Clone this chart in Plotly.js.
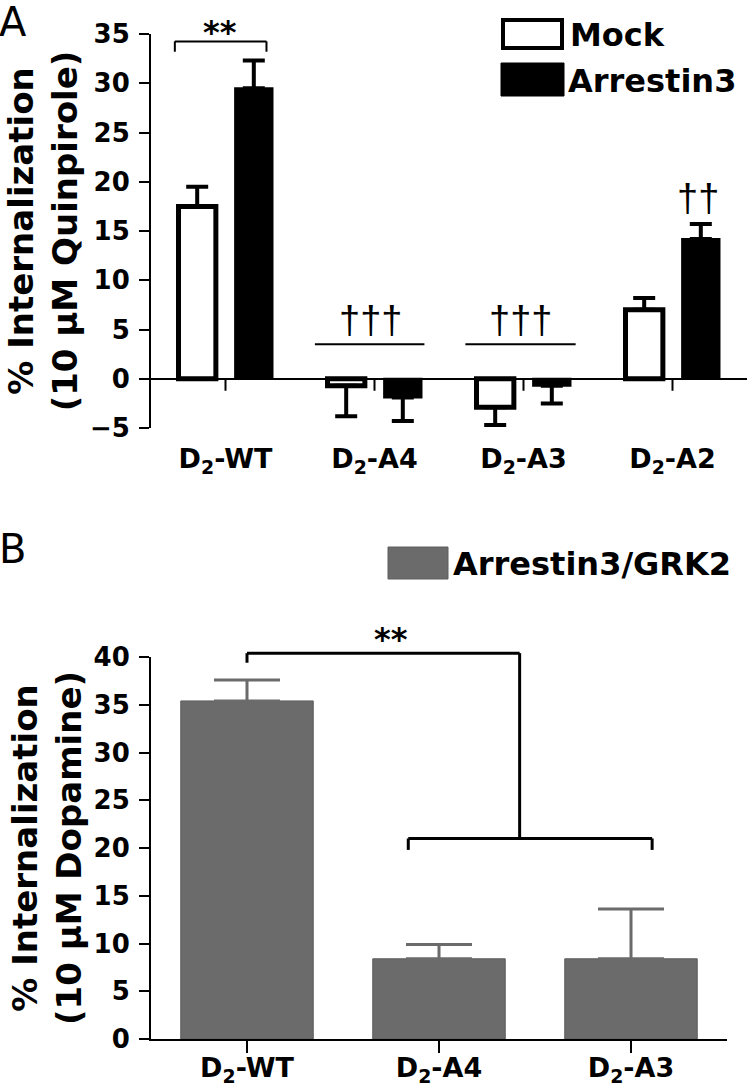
<!DOCTYPE html>
<html>
<head>
<meta charset="utf-8">
<script src="https://cdn.plot.ly/plotly-3.0.1.min.js"></script>
<style>html,body{margin:0;padding:0;background:#fff}#chart{width:750px;height:1091px}</style>
</head>
<body>
<div id="chart"></div>
<script>
// ---------- Panel A data ----------
const categoriesA = ['D2-WT', 'D2-A4', 'D2-A3', 'D2-A2'];
const tickLabelsA = ['D<sub>2</sub>-WT', 'D<sub>2</sub>-A4', 'D<sub>2</sub>-A3', 'D<sub>2</sub>-A2'];
const mockValues = [17.5, -0.7, -2.9, 7.0];
const mockErrors = [2.0, 3.1, 1.8, 1.2];
const arrestinValues = [29.5, -1.9, -0.7, 14.2];
const arrestinErrors = [2.8, 2.4, 1.8, 1.5];
const yTicksA = [-5, 0, 5, 10, 15, 20, 25, 30, 35];
const rangeA = [-5, 35];

// ---------- Panel B data ----------
const categoriesB = ['D2-WT', 'D2-A4', 'D2-A3'];
const tickLabelsB = ['D<sub>2</sub>-WT', 'D<sub>2</sub>-A4', 'D<sub>2</sub>-A3'];
const grkValues = [35.4, 8.4, 8.4];
const grkErrors = [2.2, 1.5, 5.2];
const yTicksB = [0, 5, 10, 15, 20, 25, 30, 35, 40];
const rangeB = [0, 40];

// error bars only drawn away from zero
function errUp(v, e) { return v.map((x, i) => x >= 0 ? e[i] : 0); }
function errDown(v, e) { return v.map((x, i) => x < 0 ? e[i] : 0); }
// value -> fraction of the axis domain (for marks placed beyond the axis range)
function dom(v, r) { return (v - r[0]) / (r[1] - r[0]); }

const FONT = 'DejaVu Sans, Verdana, sans-serif';
const SANS2 = 'Liberation Sans, Arial, sans-serif';
const GREY = '#6b6b6b';

const traces = [
  {
    type: 'bar', name: 'Mock', x: categoriesA, y: mockValues,
    xaxis: 'x', yaxis: 'y',
    marker: {color: '#ffffff', line: {color: '#000000', width: 5}},
    error_y: {type: 'data', symmetric: false, array: errUp(mockValues, mockErrors),
              arrayminus: errDown(mockValues, mockErrors), color: '#000000', thickness: 4, width: 11},
    hoverinfo: 'skip'
  },
  {
    type: 'bar', name: 'Arrestin3', x: categoriesA, y: arrestinValues,
    xaxis: 'x', yaxis: 'y',
    marker: {color: '#000000', line: {color: '#000000', width: 2}},
    error_y: {type: 'data', symmetric: false, array: errUp(arrestinValues, arrestinErrors),
              arrayminus: errDown(arrestinValues, arrestinErrors), color: '#000000', thickness: 4, width: 11},
    hoverinfo: 'skip'
  },
  {
    type: 'bar', name: 'Arrestin3/GRK2', x: categoriesB, y: grkValues,
    xaxis: 'x2', yaxis: 'y2', width: 0.69,
    marker: {color: GREY, line: {color: '#5e5e5e', width: 1}},
    error_y: {type: 'data', symmetric: false, array: errUp(grkValues, grkErrors),
              arrayminus: errDown(grkValues, grkErrors), color: GREY, thickness: 3, width: 33},
    hoverinfo: 'skip'
  }
];

const W = 750, H = 1091;
const px = x => x / W;
const py = y => 1 - y / H;

const tickFont = {family: FONT, size: 26, color: '#000', weight: 'bold'};
const xTickFont = {family: FONT, size: 27, color: '#000', weight: 'bold'};
const titleFont = {family: FONT, size: 34, color: '#000', weight: 'bold'};
const legendFont = {family: FONT, size: 32, color: '#000', weight: 'bold'};
const starFont = {family: FONT, size: 32, color: '#000', weight: 'bold'};
const daggerFont = {family: SANS2, size: 38, color: '#000'};

const shapes = [];
const annotations = [];

// category ticks at y = 0 in panel A
categoriesA.forEach((c, i) => {
  shapes.push({type: 'line', xref: 'x', yref: 'y', x0: i, x1: i, ysizemode: 'pixel', yanchor: 0, y0: 0, y1: -12,
               line: {color: '#000', width: 2}});
});

// Panel A significance marks
const lineA = {color: '#000', width: 2};
shapes.push({type: 'line', xref: 'x', yref: 'y', x0: -0.34, x1: 0.275, y0: 34.25, y1: 34.25, line: lineA});
shapes.push({type: 'line', xref: 'x', yref: 'y', x0: -0.34, x1: -0.34, y0: 33.2, y1: 34.25, line: lineA});
shapes.push({type: 'line', xref: 'x', yref: 'y', x0: 0.275, x1: 0.275, y0: 33.2, y1: 34.25, line: lineA});
shapes.push({type: 'line', xref: 'x', yref: 'y', x0: 0.6, x1: 1.335, y0: 3.5, y1: 3.5, line: lineA});
shapes.push({type: 'line', xref: 'x', yref: 'y', x0: 1.61, x1: 2.35, y0: 3.5, y1: 3.5, line: lineA});
annotations.push({xref: 'x', yref: 'y domain', x: -0.04, y: dom(35.2, rangeA), yanchor: 'middle', text: '**',
                  showarrow: false, font: starFont});
annotations.push({xref: 'x', yref: 'y', x: 0.97, y: 6.0, text: '†††', showarrow: false, font: daggerFont});
annotations.push({xref: 'x', yref: 'y', x: 1.98, y: 6.0, text: '†††', showarrow: false, font: daggerFont});
annotations.push({xref: 'x', yref: 'y', x: 3.17, y: 18.4, text: '††', showarrow: false, font: daggerFont});

// Panel B significance bracket
const lineB = {color: '#000', width: 3};
const bTop = dom(40.4, rangeB), bTopTick = dom(39.4, rangeB);
const bLow = dom(21.0, rangeB), bLowTick = dom(19.8, rangeB);
shapes.push({type: 'line', xref: 'x2', yref: 'y2 domain', x0: 0, x1: 1.42, y0: bTop, y1: bTop, line: lineB});
shapes.push({type: 'line', xref: 'x2', yref: 'y2 domain', x0: 0, x1: 0, y0: bTopTick, y1: bTop, line: lineB});
shapes.push({type: 'line', xref: 'x2', yref: 'y2 domain', x0: 1.42, x1: 1.42, y0: bLow, y1: bTop, line: lineB});
shapes.push({type: 'line', xref: 'x2', yref: 'y2 domain', x0: 0.84, x1: 2.11, y0: bLow, y1: bLow, line: lineB});
shapes.push({type: 'line', xref: 'x2', yref: 'y2 domain', x0: 0.84, x1: 0.84, y0: bLowTick, y1: bLow, line: lineB});
shapes.push({type: 'line', xref: 'x2', yref: 'y2 domain', x0: 2.11, x1: 2.11, y0: bLowTick, y1: bLow, line: lineB});
annotations.push({xref: 'x2', yref: 'y2 domain', x: 0.75, y: dom(41.9, rangeB), yanchor: 'middle', text: '**',
                  showarrow: false, font: starFont});

// Legends (drawn as swatches + text)
shapes.push({type: 'rect', xref: 'paper', yref: 'paper', x0: px(503), x1: px(562), y0: py(48), y1: py(20),
             line: {color: '#000', width: 4}, fillcolor: '#fff'});
shapes.push({type: 'rect', xref: 'paper', yref: 'paper', x0: px(501), x1: px(564), y0: py(96), y1: py(63),
             line: {color: '#000', width: 1}, fillcolor: '#000'});
annotations.push({xref: 'paper', yref: 'paper', x: px(568), y: py(35), xanchor: 'left', yanchor: 'middle',
                  text: 'Mock', showarrow: false, font: legendFont});
annotations.push({xref: 'paper', yref: 'paper', x: px(566), y: py(81), xanchor: 'left', yanchor: 'middle',
                  text: 'Arrestin3', showarrow: false, font: legendFont});
shapes.push({type: 'rect', xref: 'paper', yref: 'paper', x0: px(388), x1: px(448), y0: py(579), y1: py(547),
             line: {color: '#5e5e5e', width: 1}, fillcolor: GREY});
annotations.push({xref: 'paper', yref: 'paper', x: px(451), y: py(564), xanchor: 'left', yanchor: 'middle',
                  text: 'Arrestin3/GRK2', showarrow: false, font: legendFont});

// Panel letters
annotations.push({xref: 'paper', yref: 'paper', x: px(-3), y: py(22), xanchor: 'left', yanchor: 'middle',
                  text: 'A', showarrow: false, font: {family: FONT, size: 40, color: '#000'}});
annotations.push({xref: 'paper', yref: 'paper', x: px(-3), y: py(549), xanchor: 'left', yanchor: 'middle',
                  text: 'B', showarrow: false, font: {family: FONT, size: 40, color: '#000'}});

const layout = {
  width: W, height: H,
  margin: {l: 0, r: 0, t: 0, b: 0},
  paper_bgcolor: '#fff', plot_bgcolor: '#fff',
  showlegend: false,
  barmode: 'group', bargap: 0.24, bargroupgap: 0.34,
  font: {family: FONT, color: '#000'},
  xaxis: {
    domain: [px(151), px(747)], anchor: 'y', type: 'category', range: [-0.5, 3.5],
    tickmode: 'array', tickvals: categoriesA, ticktext: tickLabelsA,
    showline: false, ticks: '', showgrid: false, zeroline: false,
    tickfont: xTickFont, ticklabelstandoff: 12, fixedrange: true
  },
  yaxis: {
    domain: [py(428), py(34)], anchor: 'x', range: rangeA,
    tickmode: 'array', tickvals: yTicksA,
    showline: true, linecolor: '#000', linewidth: 2,
    ticks: 'outside', ticklen: 10, tickwidth: 2, tickcolor: '#000',
    showgrid: false, zeroline: true, zerolinecolor: '#000', zerolinewidth: 2,
    tickfont: tickFont, ticklabelstandoff: 4,
    title: {text: '% Internalization<br>(10 μM Quinpirole)', font: titleFont, standoff: 2},
    automargin: false, fixedrange: true
  },
  xaxis2: {
    domain: [px(151), px(727)], anchor: 'y2', type: 'category', range: [-0.5, 2.5],
    tickmode: 'array', tickvals: categoriesB, ticktext: tickLabelsB,
    showline: true, linecolor: '#000', linewidth: 2,
    ticks: 'outside', ticklen: 12, tickwidth: 2, tickcolor: '#000',
    showgrid: false, zeroline: false,
    tickfont: xTickFont, ticklabelstandoff: -8, fixedrange: true
  },
  yaxis2: {
    domain: [py(1039), py(657)], anchor: 'x2', range: rangeB,
    tickmode: 'array', tickvals: yTicksB,
    showline: true, linecolor: '#000', linewidth: 2,
    ticks: 'outside', ticklen: 10, tickwidth: 2, tickcolor: '#000',
    showgrid: false, zeroline: false,
    tickfont: tickFont, ticklabelstandoff: 4,
    title: {text: '% Internalization<br>(10 μM Dopamine)', font: titleFont, standoff: 2},
    automargin: false, fixedrange: true
  },
  shapes: shapes,
  annotations: annotations
};

Plotly.newPlot('chart', traces, layout, {staticPlot: true, displayModeBar: false});
</script>
</body>
</html>
